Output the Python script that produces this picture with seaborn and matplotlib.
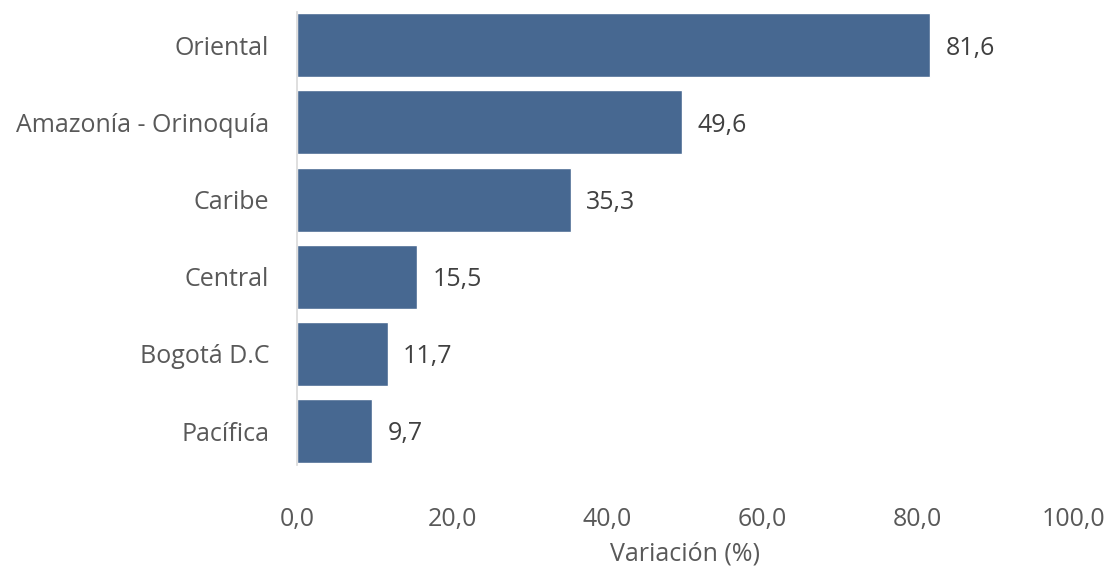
import matplotlib
matplotlib.use("Agg")
import matplotlib.pyplot as plt
import seaborn as sns
import pandas as pd

regions = ["Oriental", "Amazonía - Orinoquía", "Caribe", "Central", "Bogotá D.C", "Pacífica"]
values = [81.6, 49.6, 35.3, 15.5, 11.7, 9.7]
xticks = [0, 20, 40, 60, 80, 100]

df = pd.DataFrame({"region": regions, "valor": values})

sns.set_theme(style="white")
plt.rcParams['font.family'] = ['Open Sans', 'DejaVu Sans']

fig = plt.figure(figsize=(11.07, 5.69), dpi=100)
ax = fig.add_axes([0.2683, 0.1828, 0.7010, 0.796])

sns.barplot(data=df, x="valor", y="region", color="#476891", saturation=1,
            width=0.83, ax=ax, orient="h")

for i, v in enumerate(values):
    ax.annotate(f"{v:.1f}".replace(".", ","), xy=(v, i), xytext=(11, -2),
                textcoords="offset points", ha="left", va="center",
                fontsize=18, color="#404040")

ax.set_xlim(0, 100)
ax.set_ylim(5.44, -0.43)
ax.set_xticks(xticks)
ax.set_xticklabels([f"{t:.1f}".replace(".", ",") for t in xticks])
ax.tick_params(axis="x", length=0, pad=30, labelsize=18, labelcolor="#595959")
ax.tick_params(axis="y", length=0, pad=20, labelsize=18, labelcolor="#595959")
ax.set_ylabel("")
ax.set_xlabel("Variación (%)", fontsize=18, color="#595959", labelpad=7)

for s in ["top", "right", "bottom"]:
    ax.spines[s].set_visible(False)
ax.spines["left"].set_color("#d9d9d9")
ax.spines["left"].set_linewidth(1.2)

fig.savefig("out.png", dpi=100)
